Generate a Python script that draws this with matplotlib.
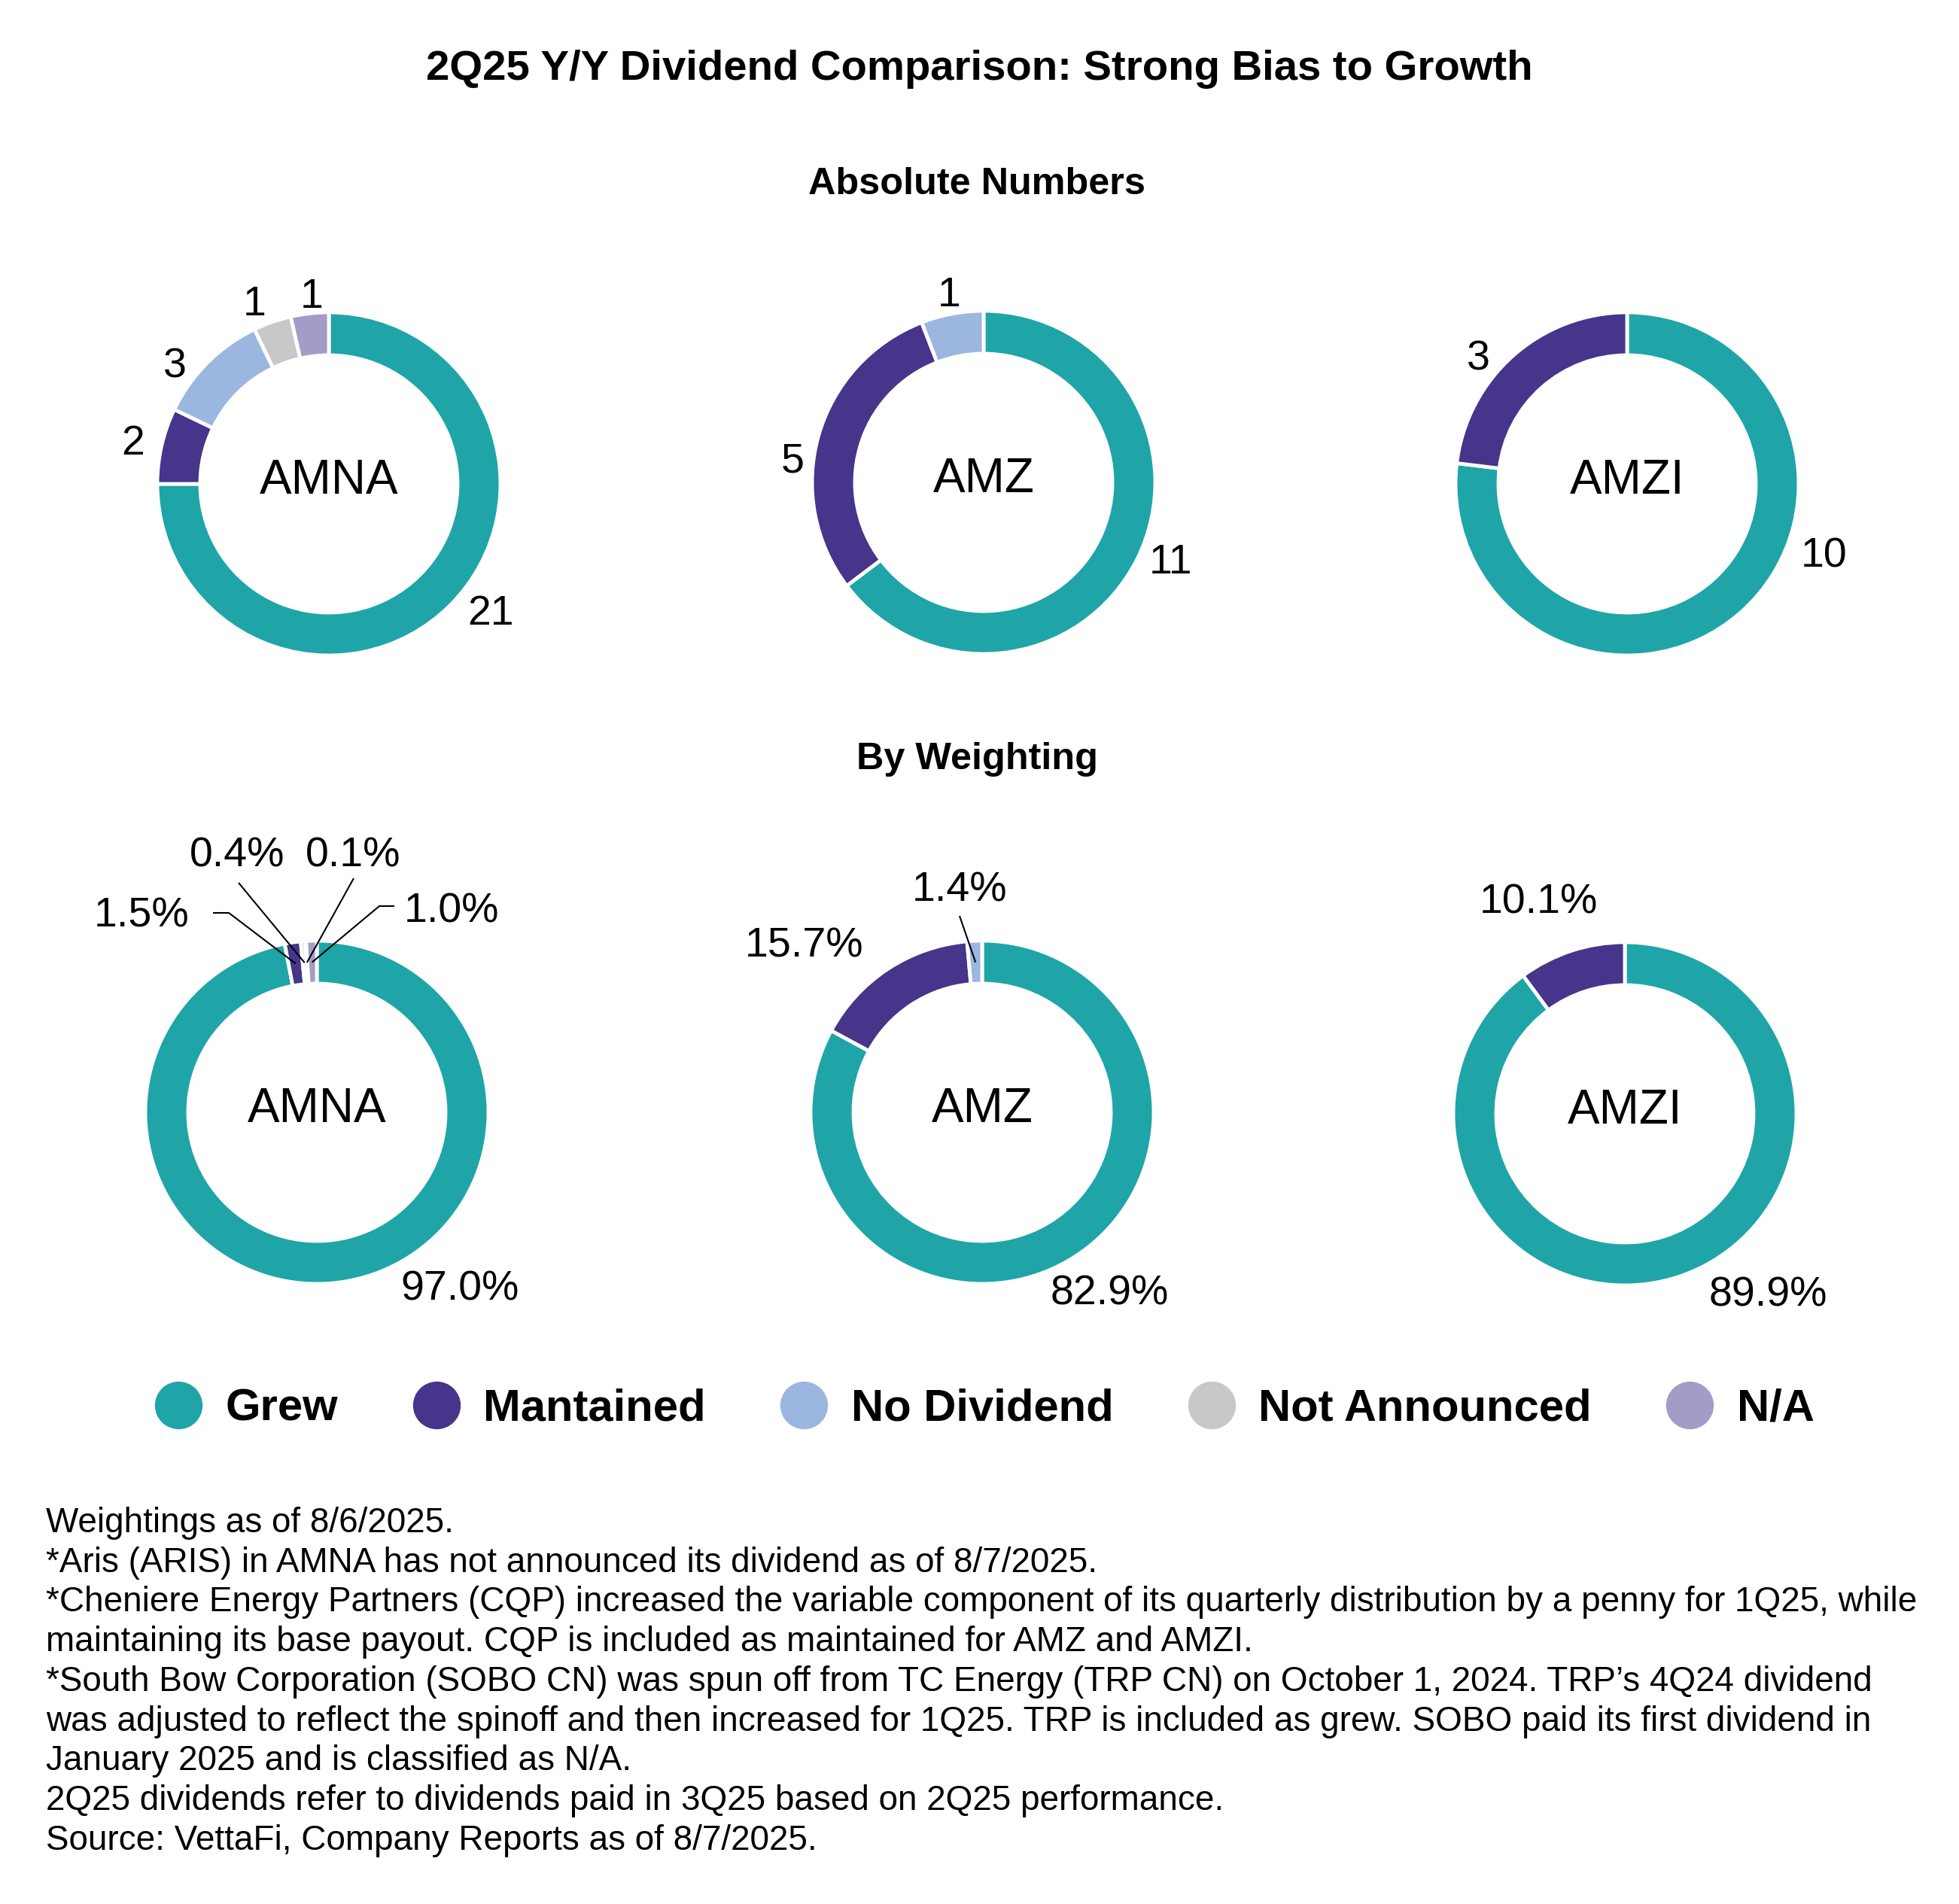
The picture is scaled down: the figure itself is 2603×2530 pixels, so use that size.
import matplotlib
matplotlib.use('Agg')
import matplotlib.pyplot as plt
from matplotlib.lines import Line2D
import numpy as np

plt.rcParams['font.family'] = ['Liberation Sans', 'DejaVu Sans']

# data
categories = ['Grew', 'Mantained', 'No Dividend', 'Not Announced', 'N/A']
funds = ['AMNA', 'AMZ', 'AMZI']
amna_counts = [21, 2, 3, 1, 1]
amz_counts = [11, 5, 1]
amzi_counts = [10, 3]
amna_weights = [97.0, 1.5, 0.4, 0.1, 1.0]
amz_weights = [82.9, 15.7, 1.4]
amzi_weights = [89.9, 10.1]

notes = [
    "Weightings as of 8/6/2025.",
    "*Aris (ARIS) in AMNA has not announced its dividend as of 8/7/2025.",
    "*Cheniere Energy Partners (CQP) increased the variable component of its quarterly distribution by a penny for 1Q25, while",
    "maintaining its base payout. CQP is included as maintained for AMZ and AMZI.",
    "*South Bow Corporation (SOBO CN) was spun off from TC Energy (TRP CN) on October 1, 2024. TRP\u2019s 4Q24 dividend",
    "was adjusted to reflect the spinoff and then increased for 1Q25. TRP is included as grew. SOBO paid its first dividend in",
    "January 2025 and is classified as N/A.",
    "2Q25 dividends refer to dividends paid in 3Q25 based on 2Q25 performance.",
    "Source: VettaFi, Company Reports as of 8/7/2025.",
]

colors = ['#1FA5A8', '#46358A', '#9BB7E0', '#C8C8C8', '#A49BC7']

# layout (pixels, y measured from top)
W, H = 2603, 2530
R = 228
RING = 57
top_centers = [(437, 643), (1307, 641), (2162, 643)]
bot_centers = [(421, 1478), (1305, 1478), (2159, 1480)]

# label offsets from donut centre
top_label_off = [
    [(215, 168), (-260, -58), (-205, -161), (-99, -243), (-23, -253)],
    [(249, 102), (-254, -33), (-46, -253)],
    [(262, 92), (-198, -170)],
]
bot_label_off = [
    [(190, 230), (-233, -265), (-106, -345), (48, -346), (179, -271)],
    [(169, 236), (-236, -225), (-30, -299)],
    [(190, 237), (-115, -285)],
]
# leader lines: (fund, wedge index) -> label side points
leaders = {
    (0, 1): [(-138, -265), (-117, -265)],
    (0, 2): [(-104, -305)],
    (0, 3): [(49, -311)],
    (0, 4): [(103, -274), (83, -274)],
    (1, 2): [(-30, -261)],
}

fig = plt.figure(figsize=(W / 100, H / 100), dpi=100)
ax = fig.add_axes([0, 0, 1, 1])


def Y(y):
    return H - y


def donut(vals, center, labels, offsets, center_text, lead=None, fi=0):
    cx, cy = center
    wedges, _ = ax.pie(vals, colors=colors[:len(vals)], startangle=90, counterclock=False,
                       center=(cx, Y(cy)), radius=R,
                       wedgeprops=dict(width=RING, edgecolor='white', linewidth=3.5))
    ax.text(cx, Y(cy) + 4, center_text, ha='center', va='center', fontsize=46)
    for i, (lab, (dx, dy)) in enumerate(zip(labels, offsets)):
        ax.text(cx + dx, Y(cy + dy) - 5, lab, ha='center', va='center', fontsize=40)
        if lead is not None and (fi, i) in lead:
            w = wedges[i]
            mid = np.deg2rad((w.theta1 + w.theta2) / 2)
            rm = R - RING / 2
            pts = [(cx + px, Y(cy + py)) for px, py in lead[(fi, i)]]
            pts.append((cx + rm * np.cos(mid), Y(cy) + rm * np.sin(mid)))
            xs, ys = zip(*pts)
            ax.plot(xs, ys, color='black', lw=1.5, solid_capstyle='butt')


count_sets = [amna_counts, amz_counts, amzi_counts]
weight_sets = [amna_weights, amz_weights, amzi_weights]

for fi, (vals, c) in enumerate(zip(count_sets, top_centers)):
    donut(vals, c, [str(v) for v in vals], top_label_off[fi], funds[fi])

for fi, (vals, c) in enumerate(zip(weight_sets, bot_centers)):
    donut(vals, c, [f'{v:.1f}%' for v in vals], bot_label_off[fi], funds[fi], leaders, fi)

ax.text(1301, Y(106), '2Q25 Y/Y Dividend Comparison: Strong Bias to Growth',
        ha='center', va='baseline', fontsize=40.5, fontweight='bold')
ax.text(1298, Y(258), 'Absolute Numbers', ha='center', va='baseline', fontsize=36.3, fontweight='bold')
ax.text(1298, Y(1022), 'By Weighting', ha='center', va='baseline', fontsize=36.3, fontweight='bold')

handles = [Line2D([], [], marker='o', ls='none', markersize=44.6,
                  markerfacecolor=c, markeredgecolor=c) for c in colors]
fig.legend(handles, categories, loc='center', bbox_to_anchor=(1309 / W, 1 - 1872 / H),
           ncol=5, frameon=False, prop={'weight': 'bold', 'size': 43},
           handlelength=1.0, handletextpad=0.55, columnspacing=1.68,
           borderpad=0, borderaxespad=0)

for i, line in enumerate(notes):
    ax.text(61, Y(2024 + i * 52.7), line, ha='left', va='center', fontsize=33)

ax.set_xlim(0, W)
ax.set_ylim(0, H)
ax.set_aspect('equal')
ax.axis('off')

fig.savefig('out.png', dpi=100, facecolor='white')
